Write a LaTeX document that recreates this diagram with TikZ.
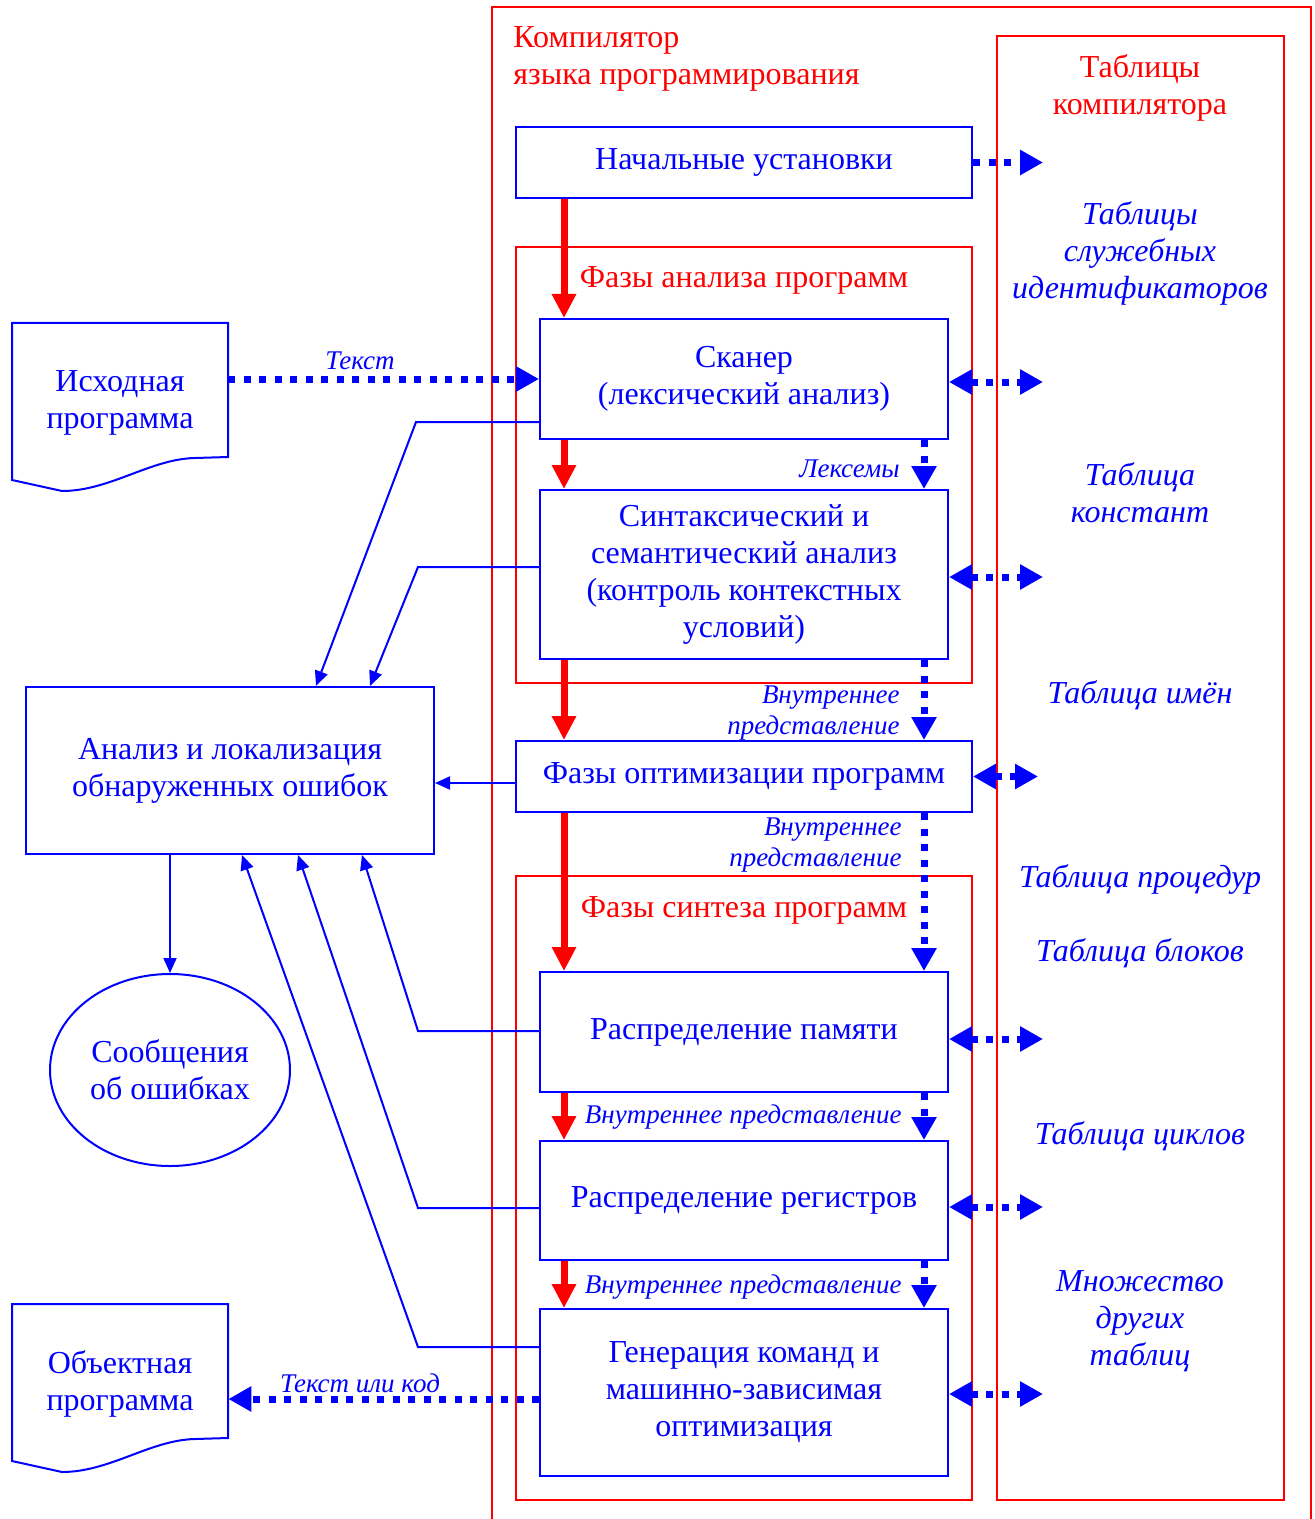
\documentclass[tikz,border=0pt]{standalone}
\usepackage{fontspec}
\setmainfont{Liberation Serif}
\usetikzlibrary{arrows.meta,shapes.geometric}
\newcommand\mainfnt{\fontsize{16}{18.5}\selectfont}
\newcommand\smallfnt{\fontsize{13.5}{15.5}\selectfont}
\tikzset{
  blk/.style={draw=blue,line width=1pt,text=blue,align=center,font=\mainfnt,minimum width=204pt,inner sep=0pt},
  phase/.style={draw=red,line width=1pt},
  ttl/.style={text=red,font=\mainfnt,align=center,inner sep=0pt,yshift=-1.5pt},
  tbl/.style={text=blue,font=\mainfnt\itshape,align=center,inner sep=0pt,yshift=-1.5pt},
  lbl/.style={text=blue,font=\smallfnt\itshape,align=right,inner sep=0pt,yshift=-1pt},
  redarr/.style={draw=red,line width=3.5pt,-{Triangle[length=12pt,width=11.5pt]}},
  dotarr/.style={draw=blue,line width=3.5pt,dash pattern=on 3.5pt off 4.25pt,-{Triangle[length=11.5pt,width=12pt]}},
  dotarrr/.style={dotarr,{Triangle[length=11.5pt,width=12pt]}-{Triangle[length=11.5pt,width=12pt]}},
  thinarr/.style={draw=blue,line width=1pt,-{Triangle[length=7.5pt,width=6.5pt]}},
}
\begin{document}
\begin{tikzpicture}[x=0.5pt,y=-0.5pt]
  \useasboundingbox (0,0) rectangle (1315,1519);
  \coordinate (rx) at (564,0);
  \coordinate (dx) at (924,0);
  \coordinate (tx) at (1043,0);
  \coordinate (ty) at (1038,0);
  % frames
  \draw [phase] (492,1519) -- (492,7) -- (1311,7) -- (1311,1519);
  \draw [phase] (997,36) rectangle (1284,1500);
  \draw [phase] (516,247) rectangle (972,683);
  \draw [phase] (516,876) rectangle (972,1500);
  \node [ttl,align=left,anchor=west] (comp) at (513,56) {Компилятор\\языка программирования};
  \node [ttl] (tabs) at (1140,85) {Таблицы\\компилятора};
  \node [ttl] (anph) at (744,277) {Фазы анализа программ};
  \node [ttl] (synph) at (744,907) {Фазы синтеза программ};
  % compiler blocks
  \node [blk,minimum width=228pt,minimum height=35.5pt] (init) at (744,162.5) {Начальные установки};
  \node [blk,minimum height=60pt] (scan) at (744,379) {Сканер\\(лексический анализ)};
  \node [blk,minimum height=84.5pt] (syn) at (744,574.5) {Синтаксический и\\семантический анализ\\(контроль контекстных\\условий)};
  \node [blk,minimum width=228pt,minimum height=35.5pt] (opt) at (744,776.5) {Фазы оптимизации программ};
  \node [blk,minimum height=60pt] (mem) at (744,1032) {Распределение памяти};
  \node [blk,minimum height=59.5pt] (reg) at (744,1200.5) {Распределение регистров};
  \node [blk,minimum height=83.5pt] (gen) at (744,1392.5) {Генерация команд и\\машинно-зависимая\\оптимизация};
  % left side
  \node [blk,minimum height=83.5pt] (err) at (230,770.5) {Анализ и локализация\\обнаруженных ошибок};
  \node [blk,ellipse,minimum width=120pt,minimum height=96pt] (msg) at (170,1070) {Сообщения\\об ошибках};
  \draw [blue,line width=1pt] (12,323) -- (228,323) -- (228,457) -- (195,458) .. controls (150,459) and (110,491) .. (62,491) -- (12,480) -- cycle;
  \node [tbl,font=\mainfnt,minimum width=108pt] (src) at (120,400) {Исходная\\программа};
  \draw [blue,line width=1pt] (12,1304) -- (228,1304) -- (228,1438) -- (195,1439) .. controls (150,1440) and (110,1472) .. (62,1472) -- (12,1461) -- cycle;
  \node [tbl,font=\mainfnt,minimum width=108pt] (obj) at (120,1381) {Объектная\\программа};
  % tables
  \node [tbl] (t1) at (1140,250) {Таблицы\\служебных\\идентификаторов};
  \node [tbl] (t2) at (1140,489.5) {Таблица\\констант};
  \node [tbl] (t3) at (1140,692) {Таблица имён};
  \node [tbl] (t4) at (1140,876) {Таблица процедур};
  \node [tbl] (t5) at (1140,950) {Таблица блоков};
  \node [tbl] (t6) at (1140,1133) {Таблица циклов};
  \node [tbl] (t7) at (1140,1318) {Множество\\других\\таблиц};
  % control flow
  \foreach \a/\b in {init/scan,scan/syn,syn/opt,opt/mem,mem/reg,reg/gen}
    \draw [redarr] (\a.south -| rx) -- (\b.north -| rx);
  \foreach \a/\b in {scan/syn,syn/opt,opt/mem,mem/reg,reg/gen}
    \draw [dotarr] (\a.south -| dx) -- (\b.north -| dx);
  \draw [dotarr] (init.east) -- (init.east -| tx);
  \foreach \a/\y in {scan/382,syn/577,mem/1039,reg/1207,gen/1394}
    \draw [dotarrr] (\a.east |- 0,\y) -- (tx |- 0,\y);
  \draw [dotarrr] (opt.east) -- (opt.east -| ty);
  \draw [dotarr] (src.east |- scan.west) -- (scan.west);
  \draw [dotarr] (gen.west |- 0,1399) -- (obj.east |- 0,1399);
  \node [lbl] (txt) at (360,359) {Текст};
  \node [lbl] (txc) at (360,1381) {Текст или код};
  \node [lbl,anchor=east] (lex) at (900,467) {Лексемы};
  \node [lbl,anchor=east] (ir1) at (900,711) {Внутреннее\\представление};
  \node [lbl,anchor=east] (ir2) at (902,843) {Внутреннее\\представление};
  \node [lbl,anchor=east] (ir3) at (902,1115) {Внутреннее представление};
  \node [lbl,anchor=east] (ir4) at (902,1285) {Внутреннее представление};
  % error paths
  \draw [thinarr] (scan.west |- 0,422) -- (416,422) -- (316,0 |- err.north);
  \draw [thinarr] (syn.west |- 0,567) -- (418,567) -- (370,0 |- err.north);
  \draw [thinarr] (opt.west |- 0,783) -- (err.east |- 0,783);
  \draw [thinarr] (mem.west |- 0,1031) -- (418,1031) -- (362,0 |- err.south);
  \draw [thinarr] (reg.west |- 0,1208) -- (418,1208) -- (298,0 |- err.south);
  \draw [thinarr] (gen.west |- 0,1347) -- (418,1347) -- (242,0 |- err.south);
  \draw [thinarr] (msg.north |- err.south) -- (msg.north);
\end{tikzpicture}
\end{document}
